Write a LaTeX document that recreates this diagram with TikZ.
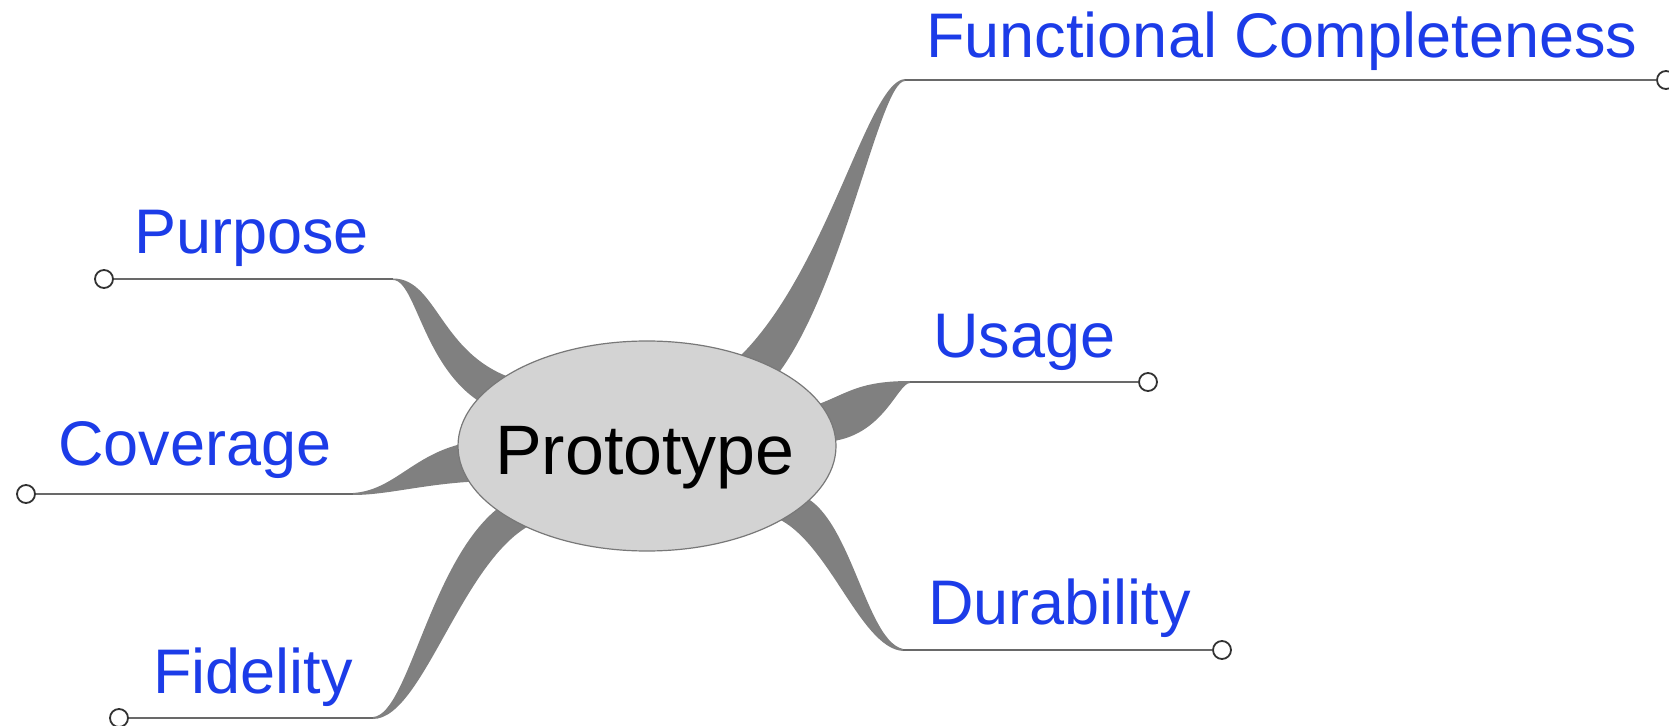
\documentclass[tikz,border=0pt]{standalone}
\usepackage{fontspec}
\setmainfont{Liberation Sans}
\usetikzlibrary{shapes.geometric}
\definecolor{lblblue}{RGB}{28,60,232}
\definecolor{ribbon}{RGB}{128,128,128}
\definecolor{linegray}{RGB}{105,105,105}
\definecolor{ptgray}{RGB}{50,50,50}
\definecolor{rootfill}{RGB}{211,211,211}
\definecolor{rootedge}{RGB}{120,120,120}
\begin{document}
\begin{tikzpicture}[x=0.5pt,y=-0.5pt,
  lbl/.style={anchor=base west, inner sep=0pt, text=lblblue, font=\fontsize{31.5}{37}\selectfont},
  endpt/.style={circle, draw=ptgray, fill=white, line width=0.9pt, minimum size=9pt, inner sep=0pt},
  branchline/.style={draw=linegray, line width=0.9pt},
  ribbonfill/.style={fill=ribbon, draw=none},
  rootnode/.style={ellipse, draw=rootedge, fill=rootfill, line width=0.6pt, minimum width=189pt, minimum height=105pt, inner sep=0pt},
  roottext/.style={anchor=base, inner sep=0pt, text=black, font=\fontsize{35}{41}\selectfont}
]
\useasboundingbox (0,0) rectangle (1669,726);

% branch start points (ends of the thin lines)
\coordinate (pP) at (393,279);
\coordinate (pC) at (353,494);
\coordinate (pF) at (373,718);
\coordinate (pFC) at (905,80);
\coordinate (pU) at (910,382);
\coordinate (pD) at (903,650);

% tapered ribbons
\fill[ribbonfill] (393,278.5) .. controls (440,278.5) and (440,365) .. (530,383) -- (520,417) .. controls (425,402) and (420,280) .. (393,280) -- cycle;
\fill[ribbonfill] (353,493) .. controls (400,490) and (418,443) .. (490,440) -- (490,481) .. controls (430,482) and (390,495) .. (353,495) -- cycle;
\fill[ribbonfill] (373,717) .. controls (410,715) and (432,545) .. (510,500) -- (542,520) .. controls (465,545) and (425,719) .. (373,719) -- cycle;
\fill[ribbonfill] (905,79) .. controls (865,81) and (822,300) .. (718,375) -- (762,392) .. controls (838,320) and (878,81) .. (905,81) -- cycle;
\fill[ribbonfill] (800,410) .. controls (845,398) and (850,381) .. (910,381) -- (910,383) .. controls (897,383) and (882,442) .. (820,442) -- cycle;
\fill[ribbonfill] (785,493) .. controls (848,488) and (862,640) .. (903,649) -- (903,651) .. controls (858,648) and (826,530) .. (768,515) -- cycle;

% root
\node[rootnode] (root) at (647,446) {};
\node[roottext] (roottxt) at (645,475) {Prototype};

% end points
\node[endpt] (cP) at (104,279) {};
\node[endpt] (cC) at (26,494) {};
\node[endpt] (cF) at (119,718) {};
\node[endpt] (cU) at (1148,382) {};
\node[endpt] (cD) at (1222,650) {};
\node[endpt] (cFC) at (1666,80) {};

% thin lines
\draw[branchline] (cP) -- (pP);
\draw[branchline] (cC) -- (pC);
\draw[branchline] (cF) -- (pF);
\draw[branchline] (pFC) -- (cFC);
\draw[branchline] (pU) -- (cU);
\draw[branchline] (pD) -- (cD);

% labels
\node[lbl] (lP) at (134,254) {Purpose};
\node[lbl] (lC) at (58,466) {Coverage};
\node[lbl] (lF) at (153,693) {Fidelity};
\node[lbl] (lU) at (933,358) {Usage};
\node[lbl] (lD) at (928,624) {Durability};
\node[lbl] (lFC) at (926,58) {Functional Completeness};
\end{tikzpicture}
\end{document}
